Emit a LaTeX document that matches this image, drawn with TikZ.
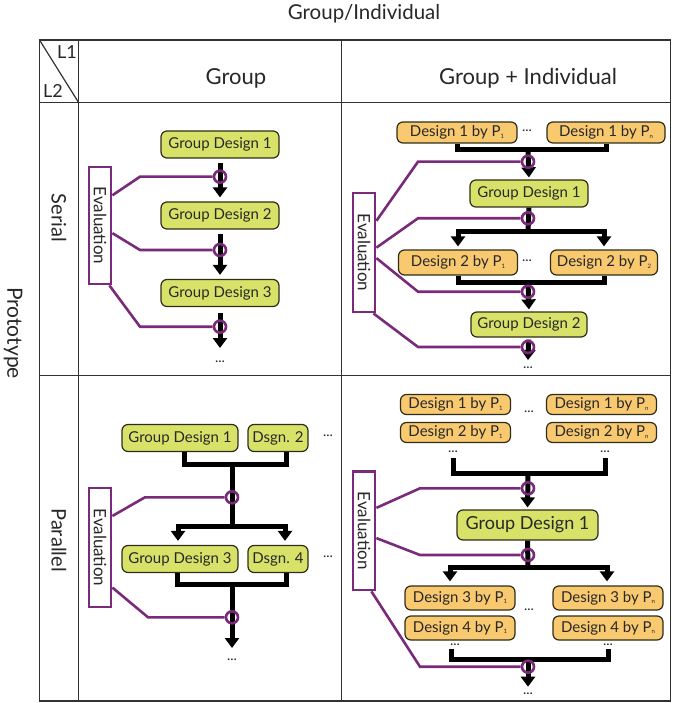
\documentclass[tikz,border=0pt]{standalone}
\usepackage{fontspec}
\setmainfont{Lato}
\usetikzlibrary{arrows.meta,calc}
\definecolor{gfill}{RGB}{216,226,104}
\definecolor{ofill}{RGB}{249,201,112}
\definecolor{bline}{RGB}{45,45,25}
\definecolor{purp}{RGB}{122,42,122}
\definecolor{gridc}{RGB}{50,50,50}
\definecolor{txt}{RGB}{40,40,40}
\newcommand\sbs[1]{\raisebox{-1.5pt}{\fontsize{6}{6}\selectfont #1}}
\begin{document}
\begin{tikzpicture}[x=1pt,y=-1pt,
  box/.style={rounded corners=6pt, draw=bline, line width=1.2pt, inner sep=0pt, text=txt, font=\fontsize{15}{17}\selectfont},
  gbox/.style={box, fill=gfill},
  obox/.style={box, fill=ofill},
  evbox/.style={draw=purp, line width=2.8pt, fill=white, rotate=-90, minimum height=22pt, inner sep=0pt, text=txt, font=\fontsize{17}{19}\selectfont},
  evc/.style={circle, draw=purp, line width=2.6pt, minimum size=12pt, inner sep=0pt},
  pl/.style={draw=purp, line width=2.6pt, line join=miter},
  bbar/.style={draw=black, line width=5pt, line join=miter},
  barr/.style={bbar, -{Triangle[width=14pt,length=10pt]}},
  dotsn/.style={font=\fontsize{14}{14}\selectfont, text=txt, inner sep=0pt},
  gridl/.style={draw=gridc, line width=1.2pt},
  lab/.style={text=txt, inner sep=0pt}
]
\fill[white] (0,0) rectangle (674,703);

% ---------- table ----------
\draw[gridl] (39.5,40) rectangle (670.5,701);
\draw[gridl] (39.5,102.7) -- (670.5,102.7);
\draw[gridl] (39.5,375.7) -- (670.5,375.7);
\draw[gridl] (78.7,40) -- (78.7,701);
\draw[gridl] (341.3,40) -- (341.3,701);
\draw[gridl] (39.5,40) -- (78.7,102.7);

\node[lab, font=\fontsize{20.5}{24}\selectfont] (gi) at (364,14) {Group/Individual};
\node[lab, font=\fontsize{22}{26}\selectfont] (hg) at (236,78) {Group};
\node[lab, font=\fontsize{22}{26}\selectfont] (hgi) at (528,78) {Group + Individual};
\node[lab, font=\fontsize{18}{20}\selectfont] (l1) at (67,52) {L1};
\node[lab, font=\fontsize{18}{20}\selectfont] (l2) at (53,91) {L2};
\node[lab, rotate=-90, font=\fontsize{21}{24}\selectfont] (proto) at (13,333) {Prototype};
\node[lab, rotate=-90, font=\fontsize{20}{23}\selectfont] (ser) at (59,218) {Serial};
\node[lab, rotate=-90, font=\fontsize{20}{23}\selectfont] (par) at (59,540) {Parallel};

% ---------- serial / group ----------
\node[gbox, minimum width=118pt, minimum height=27pt] (sg1) at (220,144.5) {Group Design 1};
\node[gbox, minimum width=118pt, minimum height=27pt] (sg2) at (220,215.5) {Group Design 2};
\node[gbox, minimum width=118pt, minimum height=27pt] (sg3) at (220,293) {Group Design 3};
\coordinate (send) at (220,348);
\node[dotsn] (sd) at (220,362) {...};
\draw[barr, shorten <=4pt, shorten >=4pt] (sg1) -- (sg2);
\draw[barr, shorten <=4pt, shorten >=4pt] (sg2) -- (sg3);
\draw[barr, shorten <=6pt] (sg3) -- (send);
\node[evbox, minimum width=117pt] (sev) at (100,225.5) {Evaluation};
\node[evc] (sc1) at (220,176.7) {};
\node[evc] (sc2) at (220,250) {};
\node[evc] (sc3) at (220,326.7) {};
\draw[pl] ($(sev.north west)!0.248!(sev.north east)$) -- (140,176.7) -- (sc1);
\draw[pl] ($(sev.north west)!0.564!(sev.north east)$) -- (140,250) -- (sc2);
\draw[pl] ($(sev.north east)+(-3,0)$) -- (140,326.7) -- (sc3);

% ---------- serial / group + individual ----------
\node[obox, minimum width=120pt, minimum height=21pt] (a11) at (457,132.5) {Design 1 by P\sbs{1}};
\node[dotsn] (ad1) at (527,131) {...};
\node[obox, minimum width=118pt, minimum height=21pt] (a1n) at (606,132.5) {Design 1 by P\sbs{n}};
\coordinate (ab1) at (528,150);
\draw[bbar] (a11.south) -- (a11.south |- ab1) -- (a1n.south |- ab1) -- (a1n.south);
\node[gbox, minimum width=118pt, minimum height=27pt] (ag1) at (529,193.5) {Group Design 1};
\draw[barr, shorten >=2pt] (ab1) -- (ag1.north);
\coordinate (ab2) at (528,231.7);
\draw[bbar] (ag1.south) -- (ab2);
\node[obox, minimum width=119pt, minimum height=25pt] (a21) at (458,262.5) {Design 2 by P\sbs{1}};
\node[dotsn] (ad2) at (527,261) {...};
\node[obox, minimum width=107pt, minimum height=25pt] (a22) at (604,262.5) {Design 2 by P\sbs{2}};
\draw[barr, shorten >=3pt] (ab2) -| (a21.north);
\draw[barr, shorten >=3pt] (ab2) -| (a22.north);
\coordinate (ab3) at (528,282);
\draw[bbar] (a21.south) -- (a21.south |- ab3) -- (a22.south |- ab3) -- (a22.south);
\node[gbox, minimum width=116pt, minimum height=25pt] (ag2) at (529,324.5) {Group Design 2};
\draw[barr, shorten >=2pt] (ab3) -- (ag2.north);
\coordinate (aend) at (528,360);
\draw[barr, shorten <=2pt] (ag2) -- (aend);
\node[dotsn] (ad3) at (528,368) {...};
\node[evbox, minimum width=119pt] (aev) at (364,252.5) {Evaluation};
\node[evc] (ac1) at (528,161.7) {};
\node[evc] (ac2) at (528,218.3) {};
\node[evc] (ac3) at (528,291.7) {};
\node[evc] (ac4) at (528,347) {};
\draw[pl] ($(aev.north west)!0.24!(aev.north east)$) -- (418,161.7) -- (ac1);
\draw[pl] ($(aev.north west)!0.46!(aev.north east)$) -- (418,218.3) -- (ac2);
\draw[pl] ($(aev.north west)!0.546!(aev.north east)$) -- (418,291.7) -- (ac3);
\draw[pl] ($(aev.north east)+(-3,0)$) -- (418,347) -- (ac4);

% ---------- parallel / group ----------
\node[gbox, minimum width=116pt, minimum height=27pt] (pg1) at (180,438) {Group Design 1};
\node[gbox, minimum width=60pt, minimum height=27pt] (pd2) at (278,438) {Dsgn. 2};
\node[dotsn] (pdt1) at (328,436) {...};
\coordinate (pl1) at ($(pg1.south)+(4,0)$);
\coordinate (pr1) at ($(pd2.south)+(8,0)$);
\coordinate (pb1) at (232,464);
\draw[bbar] (pl1) -- (pl1 |- pb1) -- (pr1 |- pb1) -- (pr1);
\coordinate (pb2) at (232,526.7);
\draw[bbar] (pb1) -- (pb2);
\node[gbox, minimum width=116pt, minimum height=27pt] (pg3) at (180,559) {Group Design 3};
\node[gbox, minimum width=60pt, minimum height=27pt] (pd4) at (278,559) {Dsgn. 4};
\node[dotsn] (pdt2) at (328,557) {...};
\coordinate (pt3) at ($(pg3.north)+(-2,0)$);
\coordinate (pt4) at ($(pd4.north)+(7,0)$);
\draw[barr, shorten >=4pt] (pb2) -| (pt3);
\draw[barr, shorten >=4pt] (pb2) -| (pt4);
\coordinate (pl3) at ($(pg3.south)+(-3,0)$);
\coordinate (pr3) at ($(pd4.south)+(8,0)$);
\coordinate (pb3) at (232,584);
\draw[bbar] (pl3) -- (pl3 |- pb3) -- (pr3 |- pb3) -- (pr3);
\coordinate (pend) at (232,648);
\draw[barr] (pb3) -- (pend);
\node[dotsn] (pdt3) at (232,660) {...};
\node[evbox, minimum width=119pt] (pev) at (100,547.5) {Evaluation};
\node[evc] (pc1) at (232,497.3) {};
\node[evc] (pc2) at (232,617.3) {};
\draw[pl] ($(pev.north west)!0.241!(pev.north east)$) -- (145,497.3) -- (pc1);
\draw[pl] ($(pev.north west)!0.829!(pev.north east)$) -- (148,617.3) -- (pc2);

% ---------- parallel / group + individual ----------
\node[obox, minimum width=110pt, minimum height=20pt] (q11) at (455.5,404.5) {Design 1 by P\sbs{1}};
\node[obox, minimum width=110pt, minimum height=20pt] (q21) at (455.5,432.5) {Design 2 by P\sbs{1}};
\node[obox, minimum width=110pt, minimum height=20pt] (q1n) at (601.5,404.5) {Design 1 by P\sbs{n}};
\node[obox, minimum width=110pt, minimum height=20pt] (q2n) at (601.5,432.5) {Design 2 by P\sbs{n}};
\node[dotsn] (qd1) at (529,412) {...};
\node[dotsn] (qdl) at (453,452) {...};
\node[dotsn] (qdr) at (605,452) {...};
\coordinate (qb1) at (528,473);
\draw[bbar, shorten <=5pt, shorten >=5pt] (qdl.south) -- (qdl.south |- qb1) -- (qdr.south |- qb1) -- (qdr.south);
\node[gbox, minimum width=141pt, minimum height=30pt, font=\fontsize{18}{20}\selectfont] (qg) at (527.5,525) {Group Design 1};
\draw[barr, shorten >=2pt] (qb1) -- (qg.north);
\coordinate (qb2) at (528,567.3);
\draw[bbar] (qg.south) -- (qb2);
\node[obox, minimum width=110pt, minimum height=24pt] (q31) at (460,598) {Design 3 by P\sbs{1}};
\node[obox, minimum width=110pt, minimum height=24pt] (q41) at (460,628) {Design 4 by P\sbs{1}};
\node[obox, minimum width=110pt, minimum height=24pt] (q3n) at (608,598) {Design 3 by P\sbs{n}};
\node[obox, minimum width=110pt, minimum height=24pt] (q4n) at (608,628) {Design 4 by P\sbs{n}};
\coordinate (qt3) at ($(q31.north)+(-10,0)$);
\coordinate (qt4) at ($(q3n.north)+(-1,0)$);
\draw[barr, shorten >=4pt] (qb2) -| (qt3);
\draw[barr, shorten >=4pt] (qb2) -| (qt4);
\node[dotsn] (qd2) at (529,610) {...};
\node[dotsn] (qdl2) at (455,645) {...};
\node[dotsn] (qdr2) at (608,645) {...};
\coordinate (qb3) at (528,659);
\coordinate (qll) at ($(qdl2.south)+(-4,0)$);
\coordinate (qrr) at (qdr2.south);
\draw[bbar, shorten <=3pt, shorten >=3pt] (qll) -- (qll |- qb3) -- (qrr |- qb3) -- (qrr);
\coordinate (qend) at (528,686.7);
\draw[barr] (qb3) -- (qend);
\node[dotsn] (qd3) at (528,694) {...};
\node[evbox, minimum width=118.3pt] (qev) at (364,530.85) {Evaluation};
\node[evc] (qc1) at (528,488.3) {};
\node[evc] (qc2) at (528,555) {};
\node[evc] (qc3) at (528,666.7) {};
\draw[pl] ($(qev.north west)!0.31!(qev.north east)$) -- (420,488.3) -- (qc1);
\draw[pl] ($(qev.north west)!0.56!(qev.north east)$) -- (420,555) -- (qc2);
\draw[pl] ($(qev.north east)+(-5,0)$) -- (420,666.7) -- (qc3);
\end{tikzpicture}
\end{document}
